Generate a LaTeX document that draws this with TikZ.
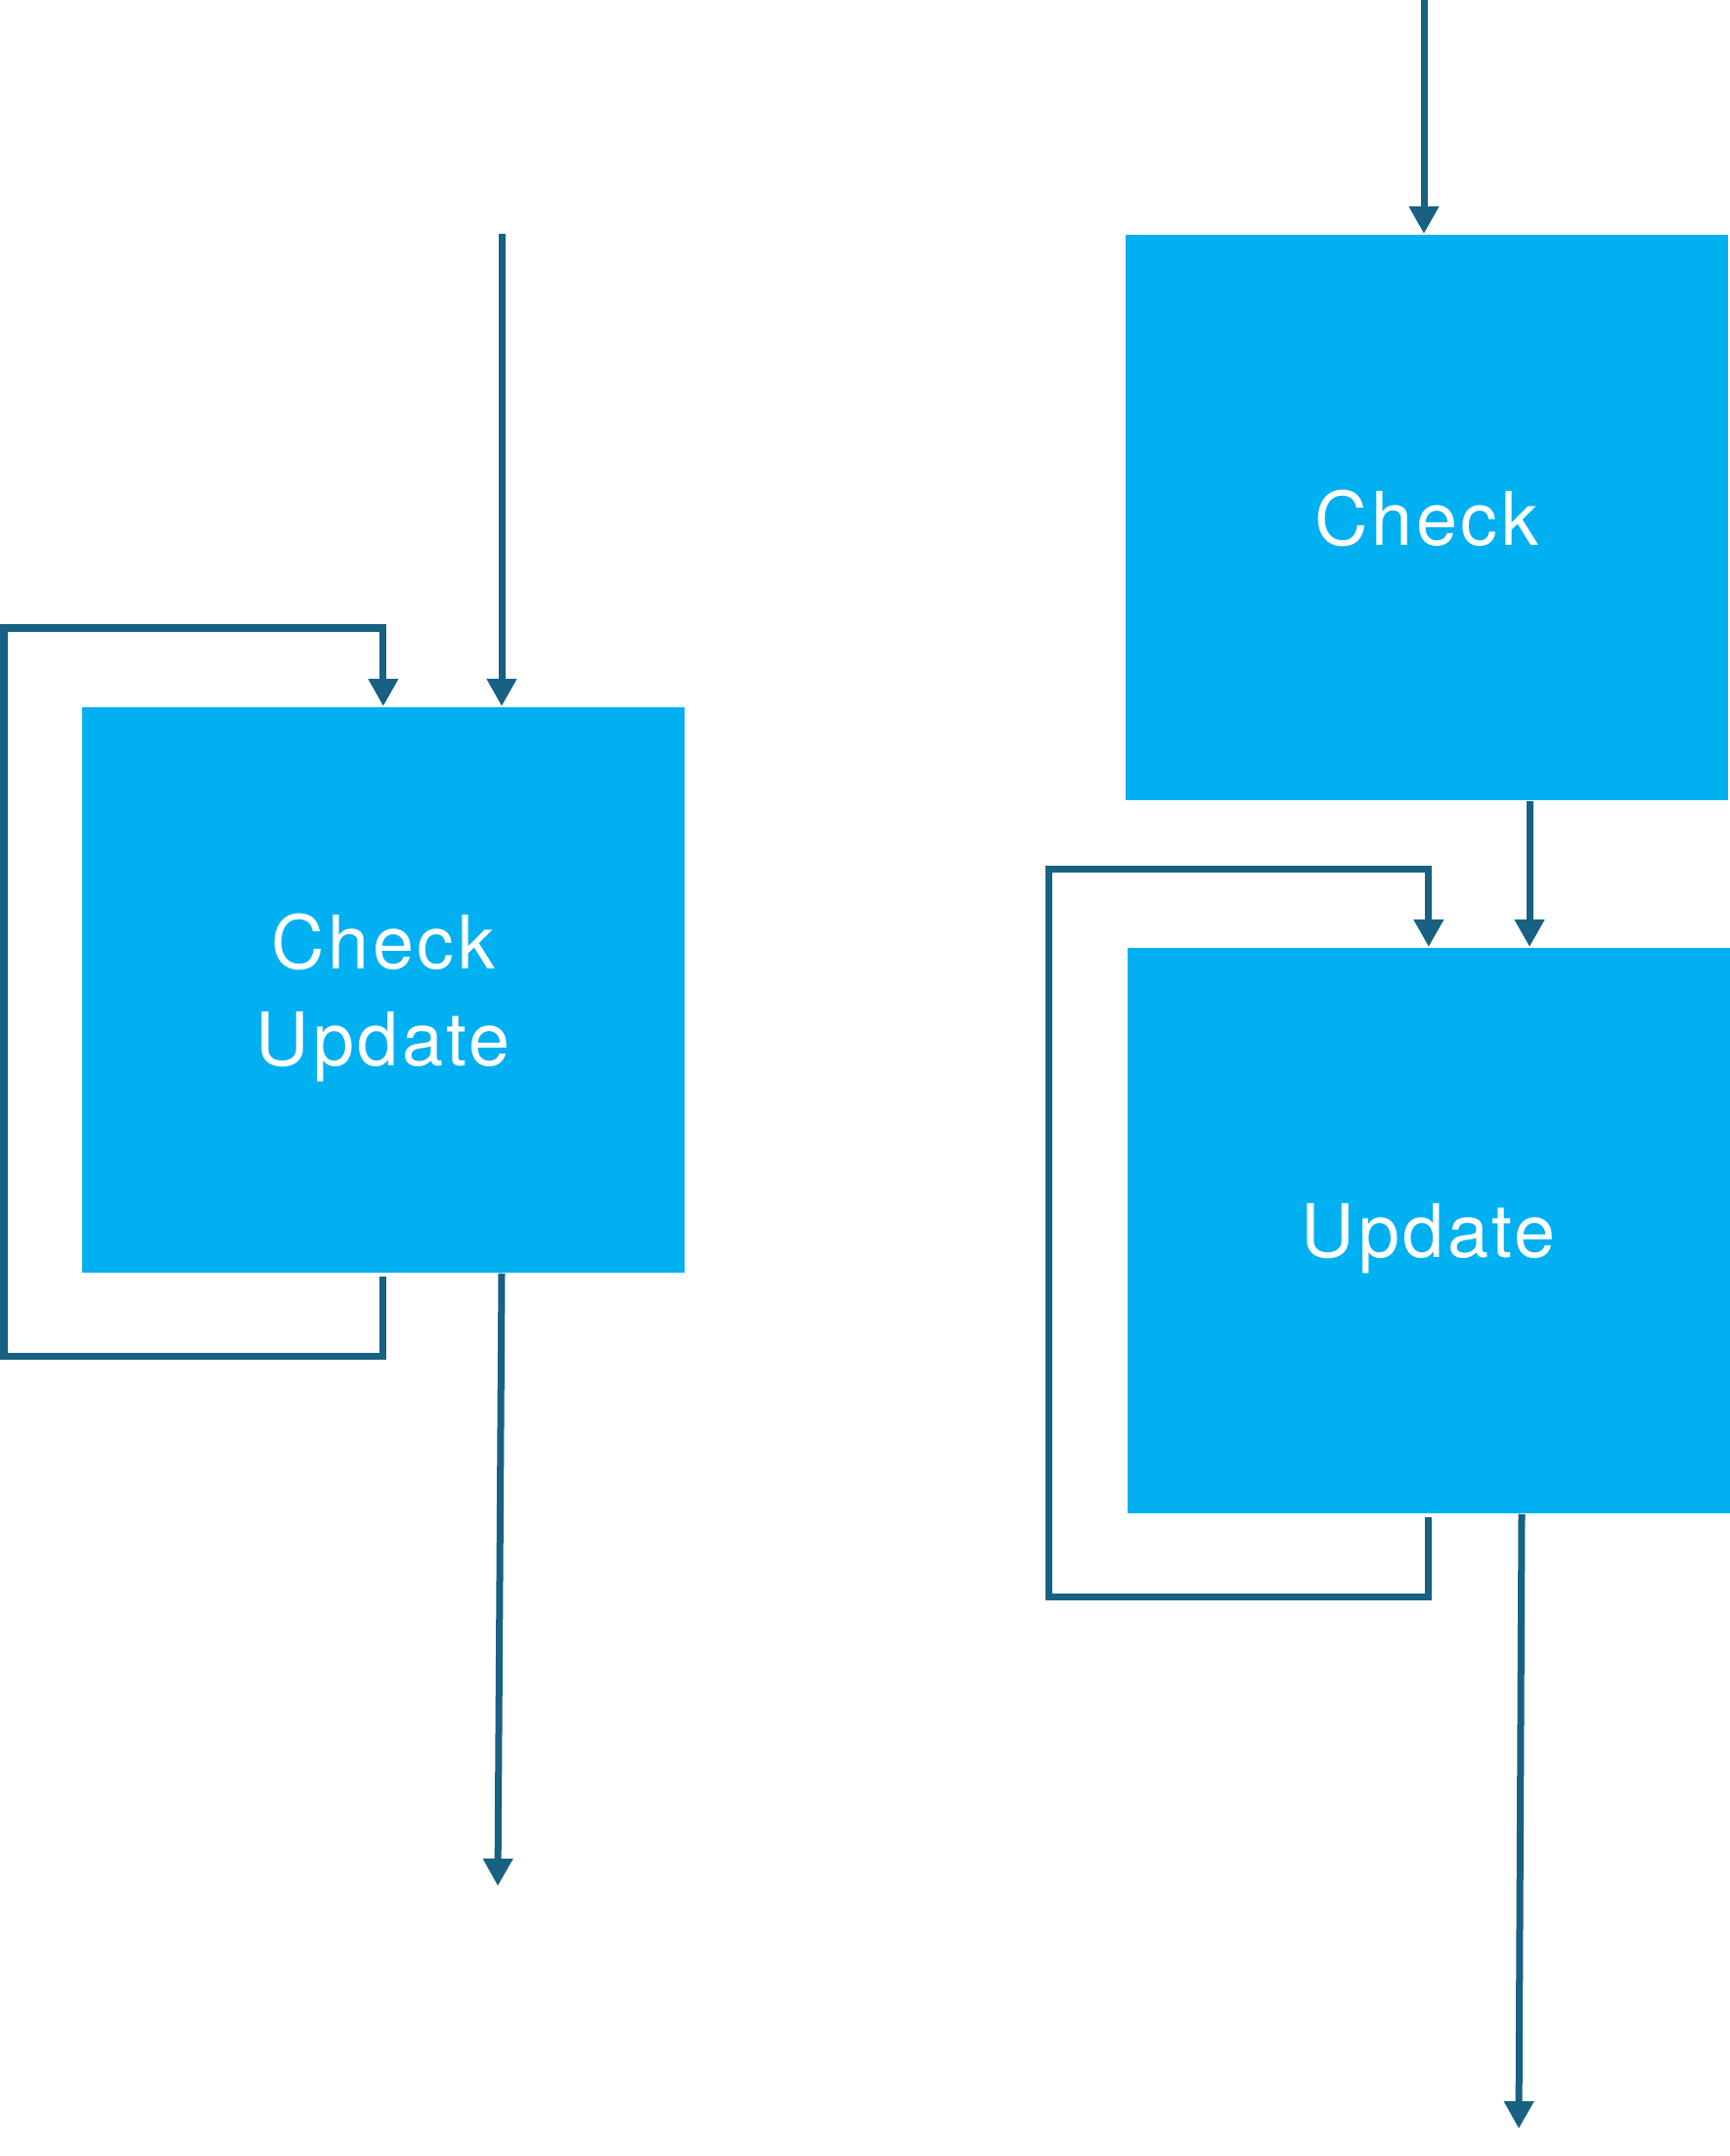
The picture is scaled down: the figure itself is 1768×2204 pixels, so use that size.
\documentclass[tikz,border=0pt]{standalone}
\usepackage{fontspec}
\setmainfont{TeX Gyre Heros}[LetterSpace=4.5]
\usetikzlibrary{arrows.meta}
\definecolor{boxblue}{RGB}{0,176,240}
\definecolor{flowblue}{RGB}{23,97,131}
\begin{document}
\begin{tikzpicture}[x=0.01cm, y=-0.01cm,
  box/.style={fill=boxblue, anchor=north west, minimum width=6.16cm, minimum height=5.78cm,
    align=center, text=white, text depth=0pt, font=\fontsize{21.5}{28}\selectfont},
  flow/.style={draw=flowblue, line width=0.07cm, -{Triangle[width=0.29cm, length=0.28cm]}}]
  \useasboundingbox (0,0) rectangle (1768,2204);
  % 左：单个节点
  \node[box] (chkupd) at (83,722) {Check\\Update};
  \coordinate (inL) at (513,239);
  \coordinate (outL) at (509,1928);
  \draw[flow] (inL) -- (inL |- chkupd.north);
  \draw[flow] ([yshift=-0.03cm]chkupd.south) -- ++(0,82) -| (4,642) -| (chkupd.north);
  \draw[flow] (chkupd.south -| inL) -- (outL);
  % 右：两个节点
  \node[box] (chk) at (1150,239) {Check};
  \node[box] (upd) at (1152,968) {Update};
  \coordinate (inR) at (1456,0);
  \coordinate (midR) at (1564,0);
  \coordinate (outR) at (1553,2176);
  \draw[flow] (inR) -- (inR |- chk.north);
  \draw[flow] (chk.south -| midR) -- (upd.north -| midR);
  \draw[flow] ([yshift=-0.03cm]upd.south) -- ++(0,82) -| (1072,888) -| (upd.north);
  \draw[flow] (upd.south -| 1556,0) -- (outR);
\end{tikzpicture}
\end{document}
